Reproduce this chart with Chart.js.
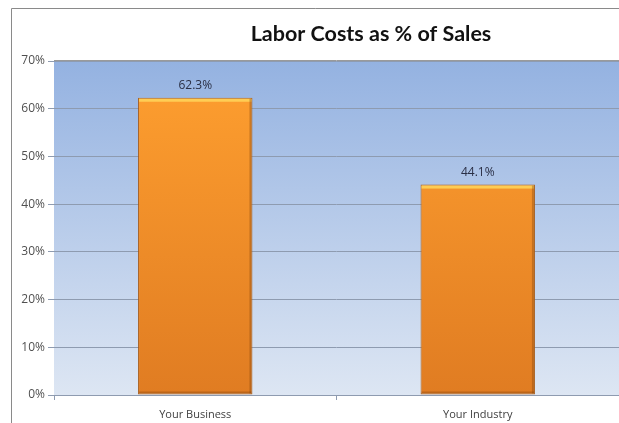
<!DOCTYPE html>
<html>
<head>
<meta charset="utf-8">
<script src="https://cdn.jsdelivr.net/npm/chart.js@4"></script>
<style>
  html, body { margin: 0; padding: 0; background: #fff; }
  #wrap { width: 619px; height: 423px; }
</style>
</head>
<body>
<div id="wrap"><canvas id="laborChart" width="619" height="423"></canvas></div>
<script>
const categories = ["Your Business", "Your Industry"];
const laborPct = [62.3, 44.1];
const chartTitle = "Labor Costs as % of Sales";

// frame, plot background, title, bar bevel and value labels
const decor = {
  id: "decor",
  beforeDraw(chart) {
    const { ctx, chartArea: a } = chart;
    ctx.save();
    const g = ctx.createLinearGradient(0, a.top, 0, a.bottom);
    g.addColorStop(0, "#94b2e1");
    g.addColorStop(1, "#dde6f3");
    ctx.fillStyle = g;
    ctx.fillRect(a.left, a.top, a.right - a.left, a.bottom - a.top);
    ctx.strokeStyle = "#8a8a8a";
    ctx.lineWidth = 1;
    ctx.beginPath();
    ctx.moveTo(11.5, 423);
    ctx.lineTo(11.5, 8.5);
    ctx.lineTo(619, 8.5);
    ctx.stroke();
    ctx.strokeStyle = "#9a9a9a";
    ctx.beginPath();
    ctx.moveTo(a.left, a.top - 0.5);
    ctx.lineTo(a.right, a.top - 0.5);
    ctx.stroke();
    ctx.fillStyle = "#111";
    ctx.font = "bold 21.5px Lato, 'Open Sans', sans-serif";
    ctx.textAlign = "center";
    ctx.textBaseline = "middle";
    ctx.fillText(chartTitle, 371, 34);
    ctx.restore();
  },
  afterDatasetsDraw(chart) {
    const { ctx } = chart;
    ctx.save();
    chart.getDatasetMeta(0).data.forEach((bar, i) => {
      const w = bar.width;
      const left = bar.x - w / 2;
      // top highlight and right/bottom shading
      ctx.fillStyle = "rgba(255, 214, 90, 0.85)";
      ctx.fillRect(left + 1, bar.y + 1, w - 2, 3);
      ctx.fillStyle = "rgba(120, 60, 10, 0.35)";
      ctx.fillRect(left + w - 3, bar.y + 1, 2, bar.base - bar.y - 2);
      ctx.fillRect(left + 1, bar.base - 3, w - 2, 2);
      ctx.fillStyle = "#2a2f45";
      ctx.font = "12px 'Open Sans', sans-serif";
      ctx.textAlign = "center";
      ctx.textBaseline = "bottom";
      ctx.fillText(laborPct[i].toFixed(1) + "%", bar.x, bar.y - 6);
    });
    ctx.restore();
  },
};

const ctx = document.getElementById("laborChart").getContext("2d");
const laborChart = new Chart(ctx, {
  type: "bar",
  data: {
    labels: categories,
    datasets: [
      {
        data: laborPct,
        backgroundColor: function (context) {
          const a = context.chart.chartArea;
          if (!a) return "#f39a30";
          const g = context.chart.ctx.createLinearGradient(0, a.top, 0, a.bottom);
          g.addColorStop(0, "#ffa030");
          g.addColorStop(1, "#e07c22");
          return g;
        },
        borderColor: "#a85e1c",
        borderWidth: 1,
        borderSkipped: false,
        barPercentage: 0.405,
        categoryPercentage: 1,
      },
    ],
  },
  options: {
    responsive: false,
    animation: false,
    layout: { padding: { top: 61, left: 0, right: 0, bottom: 0 } },
    plugins: {
      legend: { display: false },
      tooltip: { enabled: false },
    },
    scales: {
      y: {
        min: 0,
        max: 70,
        afterFit: (s) => { s.width = 54; },
        border: { display: false },
        grid: { color: "#8e9bb0", tickLength: 6, tickColor: "#8e9bb0" },
        ticks: {
          stepSize: 10,
          padding: 3,
          color: "#505050",
          font: { size: 12, family: "'Open Sans', sans-serif" },
          callback: (v) => v + "%",
        },
      },
      x: {
        afterFit: (s) => { s.height = 28; },
        border: { color: "#8e9bb0" },
        grid: { drawOnChartArea: false, tickLength: 5, tickColor: "#8e9bb0" },
        ticks: {
          padding: 8,
          color: "#404040",
          font: { size: 11, family: "'Open Sans', sans-serif" },
        },
      },
    },
  },
  plugins: [decor],
});
</script>
</body>
</html>
